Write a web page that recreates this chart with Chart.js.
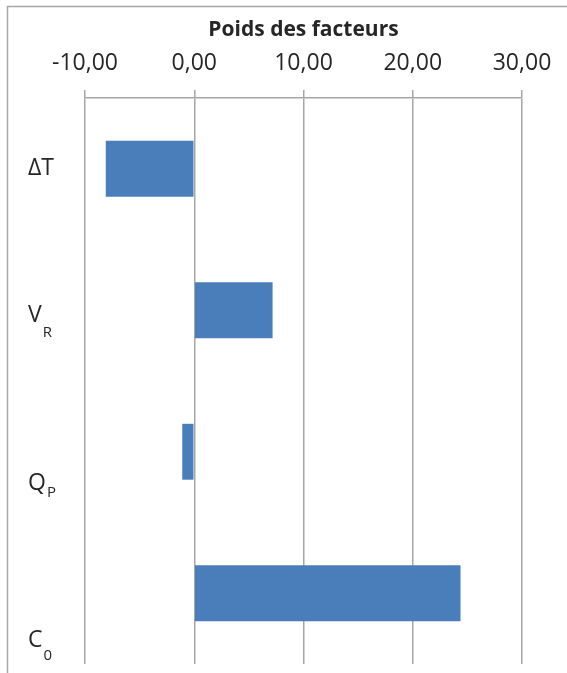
<!DOCTYPE html>
<html>
<head>
<meta charset="utf-8">
<script src="https://cdn.jsdelivr.net/npm/chart.js@4"></script>
<style>
  html, body { margin: 0; padding: 0; background: #fff; overflow: hidden; }
  canvas { display: block; }
</style>
</head>
<body>
<canvas id="chart" width="567" height="673"></canvas>
<script>
// Categories (main letter + subscript) and factor weights
const labelMain = ['\u0394T', 'V', 'Q', 'C'];
const labelSub = ['', 'R', 'P', '0'];
const weights = [-8.1, 7.17, -1.1, 24.37];
const xTicks = [-10, 0, 10, 20, 30];

// Category labels sit a little lower than the bars, as in the original
const labelNudge = [0, 5, 32, 47];
const subDrop = [0, 17, 9, 15];

// Outer chart frame (only left and top edges are visible in the crop)
const frame = {
    id: 'frame',
    beforeDraw(chart) {
        const ctx = chart.ctx;
        ctx.save();
        ctx.strokeStyle = '#a6a6a6';
        ctx.lineWidth = 1.5;
        ctx.beginPath();
        ctx.moveTo(7.5, chart.height);
        ctx.lineTo(7.5, 6.5);
        ctx.lineTo(chart.width, 6.5);
        ctx.stroke();
        ctx.restore();
    }
};

const subLabels = {
    id: 'subLabels',
    afterDraw(chart) {
        const ctx = chart.ctx;
        const yScale = chart.scales.y;
        ctx.save();
        ctx.fillStyle = '#262626';
        ctx.textBaseline = 'middle';
        labelMain.forEach((txt, i) => {
            const y = yScale.getPixelForTick(i) + labelNudge[i];
            const x = 28;
            ctx.font = '23px "Open Sans"';
            ctx.fillText(txt, x, y);
            const w = ctx.measureText(txt).width;
            if (labelSub[i]) {
                ctx.font = '15px "Open Sans"';
                ctx.fillText(labelSub[i], x + w + 1, y + subDrop[i]);
            }
        });
        ctx.restore();
    }
};

const ctx = document.getElementById('chart');
new Chart(ctx, {
    type: 'bar',
    data: {
        labels: labelMain.map((m, i) => m + labelSub[i]),
        datasets: [{
            label: 'Poids des facteurs',
            data: weights,
            backgroundColor: '#4a7ebb',
            borderWidth: 0,
            categoryPercentage: 1,
            barPercentage: 0.395
        }]
    },
    options: {
        indexAxis: 'y',
        responsive: false,
        animation: false,
        layout: {
            padding: { left: 85, right: 45, top: 4, bottom: 9 }
        },
        plugins: {
            legend: { display: false },
            tooltip: { enabled: false }
        },
        scales: {
            x: {
                position: 'top',
                min: -10,
                max: 30,
                afterBuildTicks: (scale) => {
                    scale.ticks = xTicks.map(v => ({ value: v }));
                },
                afterFit: (scale) => {
                    scale.height = 94;
                },
                title: {
                    display: true,
                    text: 'Poids des facteurs',
                    color: '#262626',
                    font: { family: 'Open Sans', size: 21, weight: 'bold' },
                    padding: { top: 13, bottom: 0 }
                },
                ticks: {
                    color: '#262626',
                    font: { family: 'Open Sans', size: 23 },
                    padding: 13,
                    maxRotation: 0,
                    callback: (v) => v.toFixed(2).replace('.', ',')
                },
                grid: {
                    color: '#a6a6a6',
                    lineWidth: 1.5,
                    tickLength: 8,
                    drawOnChartArea: true
                },
                border: { color: '#a6a6a6', width: 1.5 }
            },
            y: {
                afterFit: (scale) => {
                    scale.width = 0;
                },
                ticks: { display: false },
                grid: { display: false },
                border: { display: false }
            }
        }
    },
    plugins: [frame, subLabels]
});
</script>
</body>
</html>
